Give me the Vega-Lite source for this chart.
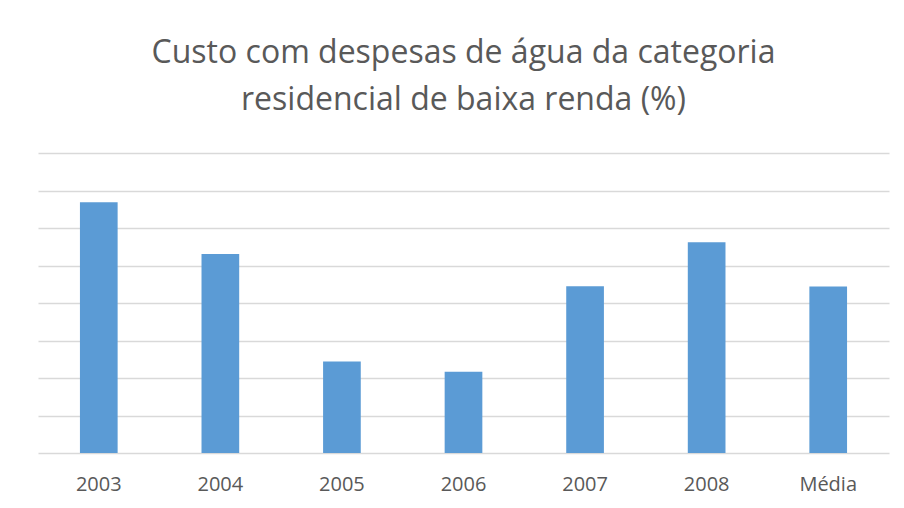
{
  "$schema": "https://vega.github.io/schema/vega-lite/v6.json",
  "autosize": "none",
  "width": 851,
  "height": 300,
  "padding": {"left": 38, "top": 153, "right": 15, "bottom": 55},
  "background": "white",
  "title": {
    "text": ["Custo com despesas de água da categoria", "residencial de baixa renda (%)"],
    "font": "Open Sans",
    "fontSize": 32,
    "fontWeight": "normal",
    "color": "#595959",
    "lineHeight": 47,
    "anchor": "middle",
    "frame": "group",
    "offset": 36
  },
  "data": {
    "values": [
      {"ano": "2003", "valor": 6.69},
      {"ano": "2004", "valor": 5.31},
      {"ano": "2005", "valor": 2.44},
      {"ano": "2006", "valor": 2.17},
      {"ano": "2007", "valor": 4.45},
      {"ano": "2008", "valor": 5.62},
      {"ano": "Média", "valor": 4.44}
    ]
  },
  "mark": {"type": "bar", "color": "#5b9bd5"},
  "encoding": {
    "x": {
      "field": "ano",
      "type": "nominal",
      "sort": null,
      "scale": {"paddingInner": 0.69, "paddingOuter": 0.345},
      "axis": {
        "title": null,
        "labelAngle": 0,
        "ticks": false,
        "domain": false,
        "labelFont": "Open Sans",
        "labelFontSize": 20,
        "labelColor": "#595959",
        "labelPadding": 21
      }
    },
    "y": {
      "field": "valor",
      "type": "quantitative",
      "scale": {"domain": [0, 8], "nice": false},
      "axis": {
        "title": null,
        "labels": false,
        "ticks": false,
        "domain": false,
        "grid": true,
        "values": [0, 1, 2, 3, 4, 5, 6, 7, 8],
        "gridColor": "#d9d9d9",
        "gridWidth": 1.3
      }
    }
  },
  "config": {"view": {"stroke": null}}
}
